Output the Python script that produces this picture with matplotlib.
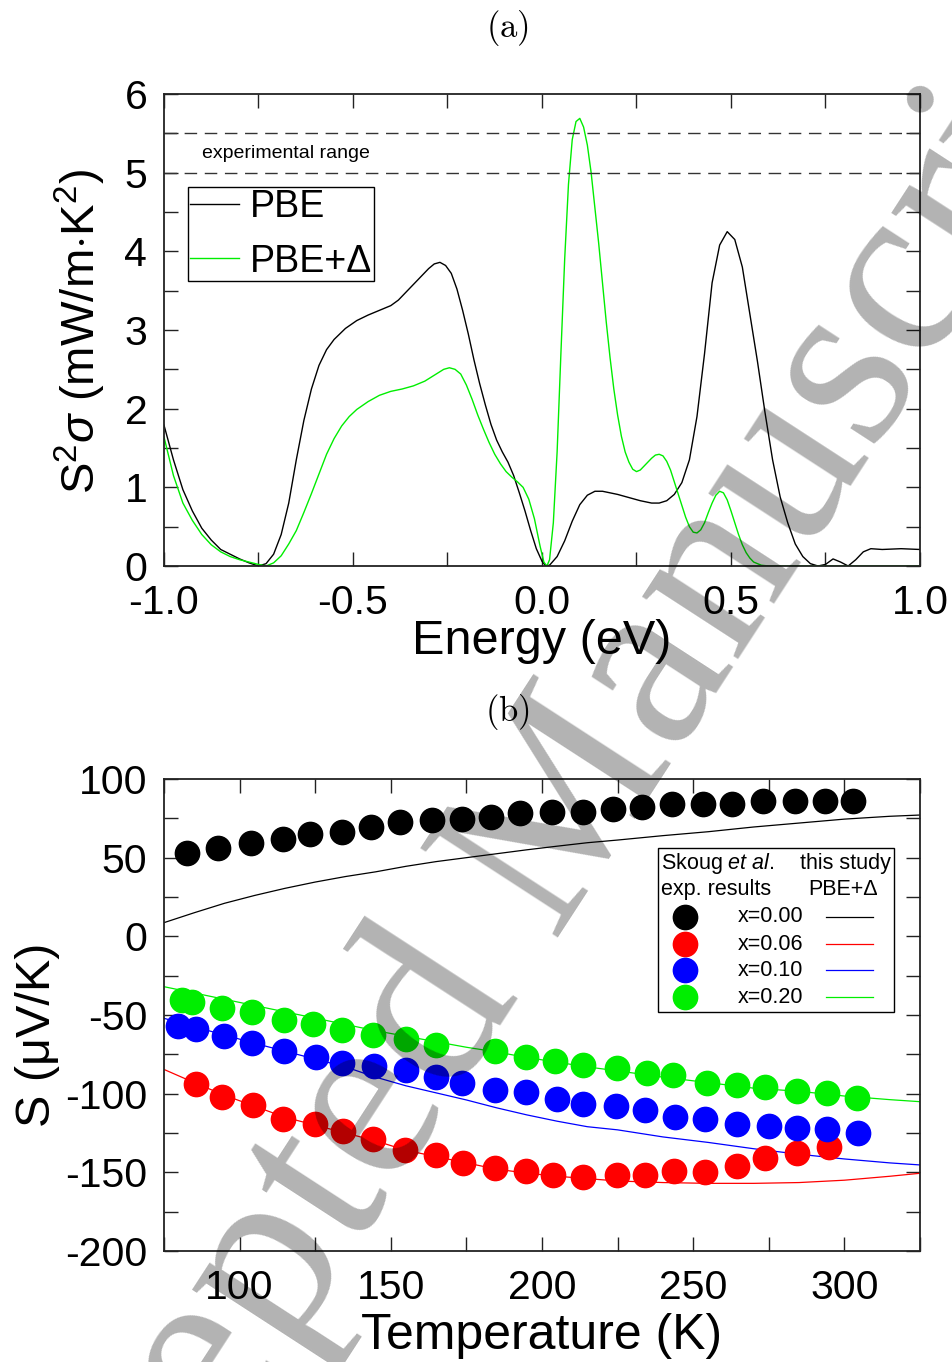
import matplotlib
matplotlib.use("Agg")
import matplotlib.pyplot as plt
from matplotlib.ticker import MultipleLocator, FormatStrFormatter
from matplotlib.patches import Rectangle
from matplotlib.lines import Line2D

plt.rcParams['font.family'] = ['Liberation Sans', 'DejaVu Sans']
plt.rcParams['axes.unicode_minus'] = False
plt.rcParams['mathtext.fontset'] = 'custom'
plt.rcParams['mathtext.rm'] = 'Liberation Sans'
plt.rcParams['mathtext.it'] = 'Liberation Sans:italic'

# ---------------- panel (a) data ----------------
pbe_E = [-1.0, -0.975, -0.95, -0.925, -0.9, -0.875, -0.85, -0.825, -0.8, -0.775,
         -0.75, -0.73, -0.71, -0.69, -0.67, -0.65, -0.63, -0.61, -0.59, -0.57,
         -0.55, -0.52, -0.49, -0.46, -0.43, -0.40, -0.38, -0.36, -0.34, -0.32,
         -0.30, -0.285, -0.27, -0.255, -0.24, -0.225, -0.21, -0.195, -0.18, -0.165,
         -0.15, -0.135, -0.12, -0.105, -0.09, -0.075, -0.06, -0.045, -0.03, -0.015,
         0.0, 0.01, 0.02, 0.04, 0.06, 0.08, 0.10, 0.12, 0.14, 0.16,
         0.18, 0.20, 0.23, 0.26, 0.29, 0.31, 0.33, 0.35, 0.37, 0.39,
         0.41, 0.43, 0.45, 0.47, 0.49, 0.51, 0.53, 0.55, 0.57, 0.59,
         0.61, 0.63, 0.65, 0.67, 0.69, 0.71, 0.73, 0.75, 0.77, 0.79,
         0.81, 0.83, 0.85, 0.87, 0.90, 0.95, 1.0]
pbe_S = [1.79, 1.35, 0.97, 0.70, 0.48, 0.33, 0.21, 0.15, 0.09, 0.04,
         0.0, 0.03, 0.15, 0.40, 0.80, 1.35, 1.85, 2.25, 2.55, 2.75,
         2.88, 3.02, 3.12, 3.19, 3.25, 3.31, 3.38, 3.48, 3.58, 3.68,
         3.78, 3.84, 3.86, 3.82, 3.72, 3.52, 3.25, 2.95, 2.62, 2.32,
         2.05, 1.80, 1.60, 1.45, 1.32, 1.15, 0.93, 0.70, 0.45, 0.22,
         0.06, 0.0, 0.01, 0.12, 0.32, 0.57, 0.78, 0.90, 0.95, 0.95,
         0.93, 0.91, 0.87, 0.83, 0.80, 0.80, 0.83, 0.91, 1.06, 1.35,
         1.90, 2.70, 3.60, 4.08, 4.25, 4.15, 3.80, 3.20, 2.60, 1.95,
         1.35, 0.88, 0.55, 0.28, 0.12, 0.03, 0.0, 0.02, 0.09, 0.05,
         0.0, 0.08, 0.18, 0.22, 0.21, 0.22, 0.21]

gap_E = [-1.0, -0.975, -0.95, -0.925, -0.9, -0.875, -0.85, -0.825, -0.8, -0.775,
         -0.75, -0.73, -0.71, -0.69, -0.67, -0.65, -0.63, -0.61, -0.59, -0.57,
         -0.55, -0.53, -0.51, -0.49, -0.46, -0.43, -0.40, -0.37, -0.34, -0.31,
         -0.28, -0.26, -0.245, -0.23, -0.215, -0.2, -0.185, -0.17, -0.155, -0.14,
         -0.125, -0.11, -0.095, -0.08, -0.065, -0.05, -0.035, -0.02, -0.005, 0.005,
         0.013, 0.02, 0.03, 0.04, 0.05, 0.06, 0.07, 0.08, 0.09, 0.10,
         0.11, 0.12, 0.13, 0.14, 0.15, 0.16, 0.17, 0.18, 0.19, 0.20,
         0.21, 0.22, 0.23, 0.24, 0.25, 0.26, 0.27, 0.28, 0.29, 0.30,
         0.31, 0.32, 0.33, 0.34, 0.35, 0.36, 0.37, 0.38, 0.39, 0.40,
         0.41, 0.42, 0.43, 0.44, 0.45, 0.46, 0.47, 0.48, 0.49, 0.50,
         0.51, 0.52, 0.53, 0.54, 0.55, 0.56, 0.58, 0.60, 1.0]
gap_S = [1.64, 1.15, 0.80, 0.58, 0.40, 0.27, 0.18, 0.12, 0.08, 0.05,
         0.02, 0.0, 0.04, 0.13, 0.28, 0.45, 0.68, 0.92, 1.17, 1.42,
         1.62, 1.78, 1.90, 1.99, 2.09, 2.17, 2.22, 2.25, 2.29, 2.35,
         2.44, 2.50, 2.52, 2.50, 2.44, 2.30, 2.12, 1.92, 1.74, 1.57,
         1.42, 1.30, 1.20, 1.13, 1.07, 1.00, 0.85, 0.60, 0.25, 0.05,
         0.0, 0.08, 0.55, 1.45, 2.70, 3.90, 4.85, 5.42, 5.65, 5.69,
         5.58, 5.35, 5.0, 4.55, 4.1, 3.6, 3.1, 2.65, 2.25, 1.92,
         1.65, 1.45, 1.32, 1.23, 1.20, 1.22, 1.27, 1.32, 1.37, 1.41,
         1.42, 1.40, 1.33, 1.22, 1.07, 0.92, 0.77, 0.62, 0.50, 0.43,
         0.42, 0.46, 0.55, 0.68, 0.80, 0.90, 0.95, 0.93, 0.84, 0.70,
         0.55, 0.40, 0.27, 0.17, 0.10, 0.05, 0.01, 0.0, 0.0]

exp_range = [5.0, 5.5]
labels_a = ['PBE', 'PBE+Δ']

# ---------------- panel (b) data ----------------
T00 = [82.5, 93, 103.7, 114.2, 123.3, 133.7, 143.6, 153, 163.5, 173.4, 183.3, 192.7,
       203.2, 213.7, 223.6, 233, 243.1, 253.1, 262.9, 273.2, 283.7, 293.6, 303]
S00 = [52.8, 56.3, 59.5, 62.1, 65.0, 66.5, 69.3, 72.9, 74.0, 74.4, 76.0, 78.2,
       79.2, 79.2, 80.7, 82.0, 83.9, 83.9, 83.9, 86.2, 86.2, 86.2, 86.2]
T06 = [85.5, 94.1, 104.4, 114.3, 124.8, 134.3, 144.2, 154.6, 164.8, 174.0, 184.4,
       194.6, 203.5, 213.7, 224.7, 234.2, 243.6, 254.0, 264.5, 273.7, 284.2, 295.0]
S06 = [-94.1, -101.9, -107.2, -116.1, -119.3, -123.7, -128.8, -135.8, -139.0, -144.3,
       -147.4, -149.0, -151.7, -152.8, -151.7, -151.7, -149.0, -150.1, -145.8, -141.1,
       -137.4, -133.7]
T10 = [79.7, 85.5, 94.8, 104.2, 114.7, 125.1, 134.0, 144.5, 154.9, 164.8, 173.7, 184.6,
       194.6, 205.0, 213.7, 224.4, 234.2, 244.1, 254.0, 264.6, 275.0, 284.2, 294.3, 304.4]
S10 = [-57.0, -59.1, -63.2, -68.0, -72.9, -76.5, -80.7, -82.4, -85.0, -89.2, -93.5,
       -97.7, -99.2, -103.4, -106.6, -107.9, -110.4, -115.0, -116.1, -119.3, -120.6,
       -121.6, -122.5, -124.8]
T20 = [81.1, 84.4, 94.1, 104.2, 114.7, 124.4, 134.0, 144.0, 154.9, 165.1, 184.6, 194.6,
       204.2, 213.7, 224.7, 234.7, 243.3, 254.7, 264.6, 273.7, 284.2, 294.3, 304.1]
S20 = [-40.2, -41.6, -45.4, -48.3, -53.2, -55.7, -59.5, -62.7, -65.4, -69.1, -72.7,
       -76.9, -79.2, -81.8, -83.5, -87.1, -88.1, -93.5, -94.5, -95.6, -98.3, -99.4, -103.0]

T_calc = [75, 85, 95, 105, 115, 125, 135, 145, 155, 165, 175, 185, 195, 205, 215, 225,
          240, 255, 270, 285, 300, 315, 325]
calc00 = [8.7, 15.0, 21.0, 26.0, 30.5, 34.5, 38.0, 41.0, 44.5, 47.5, 50.0, 52.5, 55.0,
          57.3, 59.5, 61.2, 64.0, 66.5, 69.5, 72.0, 74.5, 76.3, 77.1]
calc06 = [-84.6, -93, -101, -108, -115, -120, -125, -130, -136, -140, -144, -148, -150.5,
          -152.5, -154, -155.5, -156.5, -157, -157, -156.5, -155, -152.5, -150.6]
calc10 = [-52.1, -57.5, -62.7, -68, -73, -78, -83, -89.5, -95, -99.5, -104, -109, -113.5,
          -117.5, -121, -123, -127.5, -131, -135, -138.5, -141.5, -144, -145.3]
calc20 = [-32, -36, -40, -44, -48, -52, -56, -60, -63.5, -67, -70.5, -73.5, -77, -80, -83,
          -85.5, -89.5, -93, -96.5, -98.5, -101.5, -103.8, -105.1]

comp_labels = ['x=0.00', 'x=0.06', 'x=0.10', 'x=0.20']
colors = ['black', '#ff0000', '#0000ff', '#00ee00']

W, H = 953, 1362
fig = plt.figure(figsize=(W / 100, H / 100), dpi=100)

def frac(x0, y0, x1, y1):
    return [x0 / W, 1 - y1 / H, (x1 - x0) / W, (y1 - y0) / H]

def style_axes(ax):
    for s in ax.spines.values():
        s.set_linewidth(1.3)
        s.set_color('#222222')
    ax.tick_params(which='both', direction='in', length=10, width=1.0, color='#222222',
                   top=True, right=True, labelsize=29.5, pad=12)
    ax.tick_params(axis='x', which='both', pad=13)

# ---------------- panel (a) ----------------
axa = fig.add_axes(frac(164, 94, 920, 566))
axa.plot(pbe_E, pbe_S, color='black', lw=1.0, label=labels_a[0])
axa.plot(gap_E, gap_S, color='#00ee00', lw=1.0, label=labels_a[1])
for yv in exp_range:
    axa.axhline(yv, color='#333333', lw=1.0, dashes=(9, 5.5))
axa.text(-0.9, 5.25, 'experimental range', fontsize=14, va='center', ha='left')
axa.set_xlim(-1.0, 1.0)
axa.set_ylim(0, 6)
axa.xaxis.set_major_locator(MultipleLocator(0.5))
axa.xaxis.set_minor_locator(MultipleLocator(0.25))
axa.xaxis.set_major_formatter(FormatStrFormatter('%.1f'))
axa.yaxis.set_major_locator(MultipleLocator(1))
axa.yaxis.set_minor_locator(MultipleLocator(0.5))
style_axes(axa)
axa.set_xlabel('Energy (eV)', fontsize=35)
axa.xaxis.label.set_va('center')
axa.xaxis.set_label_coords(0.5, -0.159)
axa.set_ylabel(r'S$^{2}\sigma$ (mW/m$\cdot$K$^{2}$)', fontsize=34)
axa.yaxis.label.set_va('center')
axa.yaxis.set_label_coords(-0.111, 0.496)
leg = axa.legend(loc='upper left', bbox_to_anchor=(0.032, 0.803), borderaxespad=0,
                 fontsize=27, handlelength=1.3, handletextpad=0.3, labelspacing=0.5,
                 borderpad=0.05, fancybox=False, edgecolor='black', framealpha=1)
leg.get_frame().set_linewidth(1.0)

# ---------------- panel (b) ----------------
axb = fig.add_axes(frac(164, 779, 920, 1251))
calcs = [calc00, calc06, calc10, calc20]
exps = [(T00, S00), (T06, S06), (T10, S10), (T20, S20)]
for c, col in zip(calcs, colors):
    axb.plot(T_calc, c, color=col, lw=0.9, zorder=2)
for (t, s), col in zip(exps, colors):
    axb.plot(t, s, ls='none', marker='o', ms=17.5, mfc=col, mec=col, zorder=3)
axb.set_xlim(75, 325)
axb.set_ylim(-200, 100)
axb.xaxis.set_major_locator(MultipleLocator(50))
axb.xaxis.set_minor_locator(MultipleLocator(25))
axb.yaxis.set_major_locator(MultipleLocator(50))
axb.yaxis.set_minor_locator(MultipleLocator(25))
style_axes(axb)
axb.set_xlabel('Temperature (K)', fontsize=36)
axb.xaxis.label.set_va('center')
axb.xaxis.set_label_coords(0.5, -0.180)
axb.set_ylabel('S (μV/K)', fontsize=35)
axb.yaxis.label.set_va('center')
axb.yaxis.set_label_coords(-0.167, 0.458)

# custom legend for panel (b)
tr = axb.transAxes
axb.add_patch(Rectangle((0.653, 0.506), 0.313, 0.348, transform=tr, fc='white',
                        ec='black', lw=1.0, zorder=5))
fs_leg = 15.5
axb.text(0.657, 0.822, r'Skoug $\mathit{et\ al.}$', transform=tr, fontsize=fs_leg,
         ha='left', va='center', zorder=6)
axb.text(0.962, 0.822, 'this study', transform=tr, fontsize=fs_leg, ha='right',
         va='center', zorder=6)
axb.text(0.657, 0.765, 'exp. results', transform=tr, fontsize=fs_leg, ha='left',
         va='center', zorder=6)
axb.text(0.898, 0.765, 'PBE+Δ', transform=tr, fontsize=fs_leg, ha='center',
         va='center', zorder=6)
row_y = [0.708, 0.650, 0.595, 0.538]
for yy, lab, col in zip(row_y, comp_labels, colors):
    axb.add_line(Line2D([0.689], [yy], transform=tr, ls='none', marker='o', ms=17.5,
                        mfc=col, mec=col, zorder=6))
    axb.text(0.802, yy, lab, transform=tr, fontsize=fs_leg, ha='center', va='center', zorder=6)
    axb.add_line(Line2D([0.876, 0.938], [yy, yy], transform=tr, color=col, lw=0.9, zorder=6))

# panel titles
fig.text(507 / W, 1 - 28 / H, r'$\mathrm{(a)}$', fontsize=25, ha='center', va='center',
         math_fontfamily='cm')
fig.text(507 / W, 1 - 712 / H, r'$\mathrm{(b)}$', fontsize=25, ha='center', va='center',
         math_fontfamily='cm')

# watermark
fig.text(540 / W, 1 - 855 / H, 'Accepted Manuscript', rotation=57, fontsize=180,
         family='Liberation Serif', color='black', alpha=0.3, ha='center', va='center',
         zorder=100)

fig.savefig('out.png', dpi=100)
